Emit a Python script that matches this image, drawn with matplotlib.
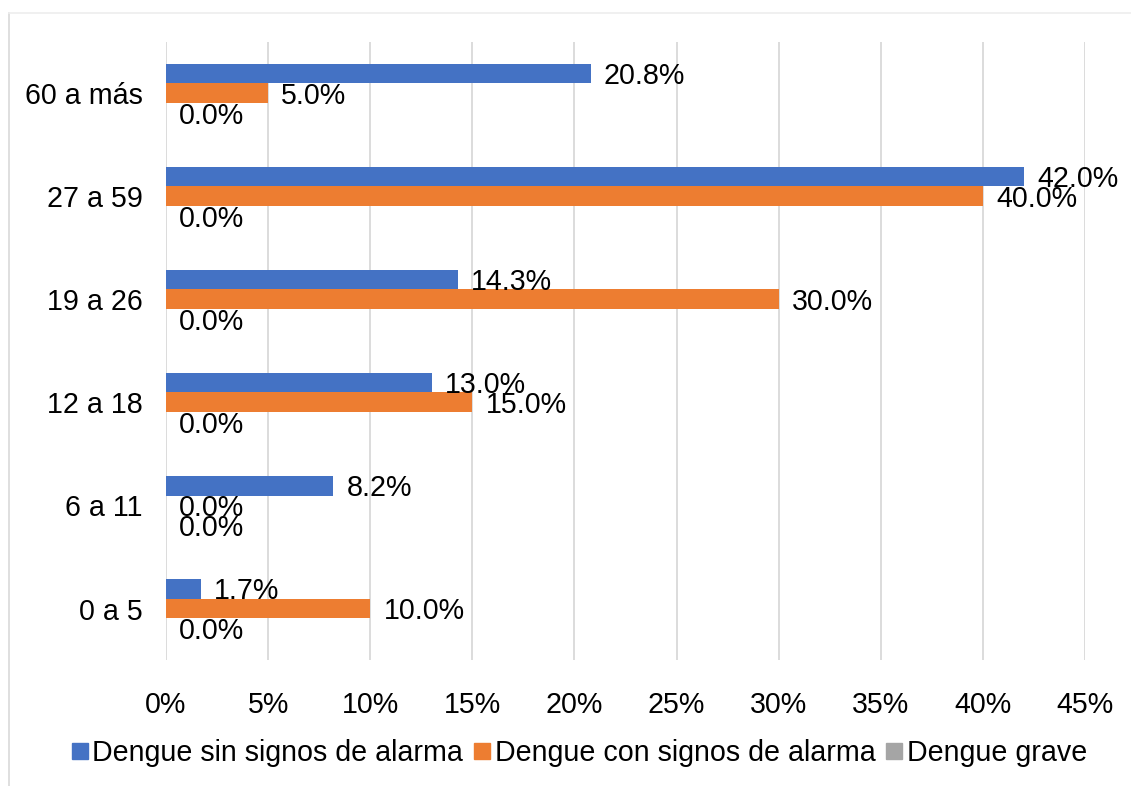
import numpy as np
import matplotlib.pyplot as plt
from matplotlib.lines import Line2D

# data (percent)
grupos = ['0 a 5', '6 a 11', '12 a 18', '19 a 26', '27 a 59', '60 a más']
sin_signos = [1.7, 8.2, 13.0, 14.3, 42.0, 20.8]
con_signos = [10.0, 0.0, 15.0, 30.0, 40.0, 5.0]
grave = [0.0, 0.0, 0.0, 0.0, 0.0, 0.0]
series_names = ['Dengue sin signos de alarma', 'Dengue con signos de alarma', 'Dengue grave']
xticks = [0, 5, 10, 15, 20, 25, 30, 35, 40, 45]

plt.rcParams['font.family'] = ['Liberation Sans', 'DejaVu Sans']
fs = 20.6

colors = ['#4472C4', '#ED7D31', '#A5A5A5']
fig = plt.figure(figsize=(11.31, 7.86), dpi=100)
ax = fig.add_axes([0.1468, 0.1603, 0.8125, 0.7863])

y = np.arange(len(grupos))
h = 0.194
offsets = [h, 0, -h]
for vals, off, c, name in zip([sin_signos, con_signos, grave], offsets, colors, series_names):
    ax.barh(y + off, vals, height=h, color=c, label=name)
    for yy, v in zip(y + off, vals):
        ax.annotate(f'{v:.1f}%', (v, yy), xytext=(9.5, -2), textcoords='offset points',
                    ha='left', va='center', fontsize=fs, color='#000000')

ax.set_xlim(0, 45)
ax.set_ylim(-0.5, len(grupos) - 0.5)
ax.set_xticks(xticks)
ax.set_xticklabels([f'{t}%' for t in xticks], fontsize=fs)
ax.set_yticks(y)
ax.set_yticklabels(grupos, fontsize=fs)
ax.tick_params(length=0, pad=17)
ax.tick_params(axis='x', pad=22)
ax.xaxis.grid(True, color='#D9D9D9', linewidth=1.3)
ax.set_axisbelow(True)
for s in ax.spines.values():
    s.set_visible(False)

handles = [Line2D([], [], marker='s', linestyle='', markersize=11, color=c) for c in colors]
fig.legend(handles, series_names, loc='center', bbox_to_anchor=(0.512, 0.042), ncol=3,
           frameon=False, fontsize=fs, handlelength=0.6, handletextpad=0.15,
           columnspacing=0.35)

# outer chart border
fig.add_artist(Line2D([9 / 1131, 9 / 1131], [0, 1 - 13 / 786], color='#D9D9D9', linewidth=1.2,
                      transform=fig.transFigure))
fig.add_artist(Line2D([9 / 1131, 1], [1 - 13 / 786, 1 - 13 / 786], color='#EEEEEE', linewidth=1.2,
                      transform=fig.transFigure))

plt.savefig('out.png', dpi=100)
